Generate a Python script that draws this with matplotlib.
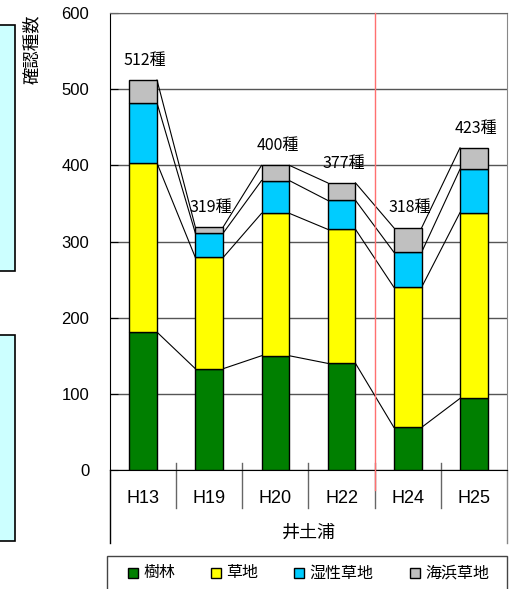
import matplotlib
matplotlib.use('Agg')
import matplotlib.pyplot as plt
from matplotlib.patches import Rectangle

plt.rcParams['font.family'] = ['Liberation Sans', 'Noto Sans CJK JP']

# data (species counts by habitat)
years = ['H13', 'H19', 'H20', 'H22', 'H24', 'H25']
forest = [181, 133, 150, 140, 56, 94]      # 樹林
grass = [222, 146, 187, 176, 184, 244]     # 草地
wet = [79, 32, 43, 38, 46, 57]             # 湿性草地
beach = [30, 8, 20, 23, 32, 28]            # 海浜草地
series_names = ['樹林', '草地', '湿性草地', '海浜草地']
colors = ['#007F00', '#FFFF00', '#00CCFF', '#C0C0C0']
site = '井土浦'

W, H = 525, 589
fig = plt.figure(figsize=(W/100, H/100), dpi=100)
ax = fig.add_axes([110/W, 1-470/H, 397/W, 457/H])

x = list(range(len(years)))
w = 0.42
bottom = [0]*len(years)
tops = []
for vals, c in zip([forest, grass, wet, beach], colors):
    ax.bar(x, vals, w, bottom=bottom, color=c, edgecolor='black', linewidth=1, zorder=3)
    bottom = [b + v for b, v in zip(bottom, vals)]
    tops.append(bottom)

# series lines joining the stacked segments
for t in tops:
    for i in range(len(years)-1):
        ax.plot([i + w/2, i + 1 - w/2], [t[i], t[i+1]], color='black', lw=0.8, zorder=2)

# totals above the bars
for i, tot in enumerate(tops[-1]):
    ax.text(i + 0.03, tot + 26, f'{tot}種', ha='center', va='center', fontsize=11.5,
            family=['Noto Sans CJK JP'])

ax.set_xlim(-0.5, len(years) - 0.5)
ax.set_ylim(0, 600)
ax.set_yticks(range(0, 601, 100))
ax.tick_params(axis='y', direction='in', length=6, pad=15, labelsize=12)
ax.set_xticks([])
ax.grid(axis='y', color='#555555', lw=1, zorder=1)
ax.set_axisbelow(True)
ax.spines['top'].set_color('#666666')
ax.spines['right'].set_color('#888888')

# category box below the axis
tr = ax.get_xaxis_transform()
for b in [i + 0.5 for i in range(len(years)-1)]:
    ax.plot([b, b], [0.015, -0.083], color='#666666', lw=1, transform=tr, clip_on=False)
ax.plot([-0.5, -0.5], [0, -0.16], color='black', lw=1, transform=tr, clip_on=False)
ax.plot([5.5, 5.5], [0, -0.16], color='#888888', lw=1, transform=tr, clip_on=False)
ax.plot([3.5, 3.5], [1, -0.044], color='#FF7070', lw=1, transform=tr, clip_on=False, zorder=4)
for i, y in enumerate(years):
    ax.text(i, -0.063, y, transform=tr, ha='center', va='center', fontsize=13)
ax.text(2.5, -0.138, site, transform=tr, ha='center', va='center', fontsize=13,
        family=['Noto Sans CJK JP'])

fig.text(32/W, 1-49/H, '確認種数', rotation=90, ha='center', va='center',
         fontsize=12.5, family=['Noto Sans CJK JP'])

# cut-off panels of the neighbouring chart on the left
fig.patches.append(Rectangle((-0.01, 1-271/H), 15/W + 0.01, 246/H,
                             transform=fig.transFigure, facecolor='#CCFFFF',
                             edgecolor='black', lw=1.2))
fig.patches.append(Rectangle((-0.01, 1-541/H), 15/W + 0.01, 206/H,
                             transform=fig.transFigure, facecolor='#CCFFFF',
                             edgecolor='black', lw=1.2))

# legend box (bottom edge runs off the picture)
fig.patches.append(Rectangle((107/W, -0.01), 400/W, 0.01 + 1-556/H,
                             transform=fig.transFigure, facecolor='white',
                             edgecolor='#444444', lw=1))
leg_x = [133, 216, 299, 415]
for name, c, lx in zip(series_names, colors, leg_x):
    fig.patches.append(Rectangle(((lx-5)/W, 1-578/H), 10/W, 10/H,
                                 transform=fig.transFigure, facecolor=c,
                                 edgecolor='black', lw=1))
    fig.text((lx+10)/W, 1-573/H, name, ha='left', va='center', fontsize=11.5,
             family=['Noto Sans CJK JP'])

fig.savefig('out.png', dpi=100)
